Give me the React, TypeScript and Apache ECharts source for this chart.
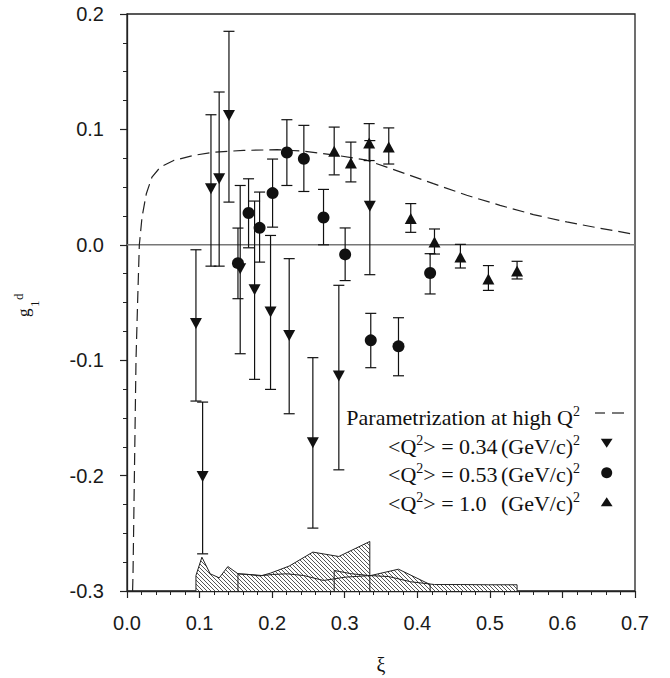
import React, { useEffect, useRef } from "react";
import * as echarts from "echarts";

// ---- axis ranges ----
const X_MIN = 0;
const X_MAX = 0.7;
const X_STEP = 0.1;
const Y_MIN = -0.3;
const Y_MAX = 0.2;
const Y_STEP = 0.1;

// ---- <Q^2> = 0.34 (GeV/c)^2 : down triangles ----
const xi34 = [0.095, 0.1042, 0.1157, 0.127, 0.1405, 0.156, 0.1758, 0.1978, 0.2235, 0.2561, 0.2919, 0.3346];
const g34 = [-0.0683, -0.2007, 0.0486, 0.0572, 0.112, -0.0208, -0.0389, -0.0583, -0.0785, -0.1715, -0.1137, 0.0334];
const hi34 = [-0.0043, -0.1363, 0.1127, 0.1324, 0.185, 0.0514, 0.0379, 0.0081, -0.012, -0.0978, -0.0351, 0.0903];
const lo34 = [-0.1354, -0.2678, -0.0185, -0.0185, 0.037, -0.0944, -0.1166, -0.1253, -0.1464, -0.2455, -0.195, -0.0259];

// ---- <Q^2> = 0.53 (GeV/c)^2 : circles ----
const xi53 = [0.1529, 0.1675, 0.1827, 0.2006, 0.2203, 0.2437, 0.2708, 0.3006, 0.3359, 0.3741, 0.4177];
const g53 = [-0.0159, 0.0275, 0.0147, 0.0448, 0.08, 0.0746, 0.0237, -0.0083, -0.0828, -0.088, -0.0244];
const hi53 = [0.0145, 0.0572, 0.0457, 0.0743, 0.1084, 0.1035, 0.048, 0.0146, -0.0594, -0.0632, -0.0077];
const lo53 = [-0.0467, -0.0026, -0.015, 0.0153, 0.0514, 0.0462, 0.0, -0.031, -0.1065, -0.1135, -0.0426];

// ---- <Q^2> = 1.0 (GeV/c)^2 : up triangles ----
const xi10 = [0.2855, 0.3085, 0.3337, 0.3607, 0.391, 0.4237, 0.4594, 0.498, 0.5375];
const g10 = [0.081, 0.0708, 0.0883, 0.0848, 0.0227, 0.0025, -0.0106, -0.0296, -0.0227];
const hi10 = [0.102, 0.089, 0.105, 0.1013, 0.0357, 0.0137, 0.0004, -0.018, -0.0143];
const lo10 = [0.0606, 0.0545, 0.073, 0.07, 0.0108, -0.008, -0.0201, -0.0395, -0.0296];

// ---- parametrization at high Q^2 (dashed curve) ----
const curveXi = [0.0077, 0.0083, 0.0124, 0.0147, 0.017, 0.0207, 0.0266, 0.0344, 0.0459, 0.0643, 0.0918, 0.1193, 0.1607, 0.2066, 0.2433, 0.2892, 0.3304, 0.3764, 0.4223, 0.4682, 0.5141, 0.56, 0.6059, 0.6472, 0.7];
const curveG = [-0.3, -0.285, -0.1, -0.048, 0, 0.024, 0.0442, 0.0587, 0.0673, 0.0731, 0.0775, 0.0803, 0.0818, 0.0824, 0.0812, 0.0775, 0.0733, 0.0632, 0.053, 0.0429, 0.0342, 0.0262, 0.0198, 0.0149, 0.009];

// ---- systematic error bands (top edges) ----
const bandXiA = [0.095, 0.1032, 0.1147, 0.1271, 0.139, 0.1529, 0.1758, 0.1858, 0.1978, 0.2235, 0.2561, 0.2919, 0.3346];
const bandTopA = [-0.2866, -0.2707, -0.2851, -0.2886, -0.2788, -0.2851, -0.286, -0.2866, -0.2845, -0.2784, -0.2663, -0.2701, -0.2571];
const bandXiB = [0.1529, 0.1675, 0.1827, 0.2006, 0.2203, 0.2437, 0.2708, 0.3006, 0.3359, 0.3741, 0.4177];
const bandTopB = [-0.2851, -0.2857, -0.2869, -0.2857, -0.2851, -0.2866, -0.2909, -0.288, -0.2866, -0.2811, -0.2944];
const bandXiC = [0.2855, 0.3085, 0.3337, 0.3607, 0.391, 0.4237, 0.4594, 0.498, 0.5375];
const bandTopC = [-0.2822, -0.285, -0.2866, -0.2875, -0.292, -0.2944, -0.2944, -0.2946, -0.2946];

const SANS = '"Liberation Sans", Arial, Helvetica, sans-serif';
const SERIF = '"Liberation Serif", "Times New Roman", Times, serif';
const INK = "#1a1a1a";

const fmt = (v: number) => (Math.abs(v) < 1e-9 ? 0 : v).toFixed(1);

function makeHatch() {
  const s = 4;
  const c = document.createElement("canvas");
  c.width = s;
  c.height = s;
  const ctx = c.getContext("2d")!;
  ctx.fillStyle = "#ffffff";
  ctx.fillRect(0, 0, s, s);
  ctx.strokeStyle = "#555555";
  ctx.lineWidth = 1;
  ctx.beginPath();
  ctx.moveTo(0, 0);
  ctx.lineTo(s, s);
  ctx.moveTo(-1, s - 1);
  ctx.lineTo(1, s + 1);
  ctx.moveTo(s - 1, -1);
  ctx.lineTo(s + 1, 1);
  ctx.stroke();
  return c;
}

function bandSeries(xs: number[], tops: number[], hatch: any) {
  const data: number[][] = [[xs[0], Y_MIN]];
  xs.forEach((x, i) => data.push([x, tops[i]]));
  data.push([xs[xs.length - 1], Y_MIN]);
  return {
    type: "line",
    data,
    showSymbol: false,
    symbol: "none",
    z: 1,
    lineStyle: { color: "#222", width: 1 },
    areaStyle: {
      origin: "start",
      opacity: 1,
      color: { image: hatch, repeat: "repeat", imageWidth: 4, imageHeight: 4 },
    },
    silent: true,
  };
}

function errorSeries(xs: number[], lo: number[], hi: number[]) {
  return {
    type: "custom",
    z: 4,
    silent: true,
    encode: { x: 0, y: [1, 2] },
    data: xs.map((x, i) => [x, lo[i], hi[i]]),
    renderItem: (params: any, api: any) => {
      const x = api.value(0);
      const pLo = api.coord([x, api.value(1)]);
      const pHi = api.coord([x, api.value(2)]);
      const hw = 5.5;
      const st = { stroke: "#111", lineWidth: 1.2 };
      return {
        type: "group",
        children: [
          { type: "line", shape: { x1: pLo[0], y1: pLo[1], x2: pHi[0], y2: pHi[1] }, style: st },
          { type: "line", shape: { x1: pLo[0] - hw, y1: pLo[1], x2: pLo[0] + hw, y2: pLo[1] }, style: st },
          { type: "line", shape: { x1: pHi[0] - hw, y1: pHi[1], x2: pHi[0] + hw, y2: pHi[1] }, style: st },
        ],
      };
    },
  };
}

function markerSeries(xs: number[], ys: number[], symbol: string, size: any, rotate: number) {
  return {
    type: "scatter",
    z: 5,
    silent: true,
    symbol,
    symbolSize: size,
    symbolRotate: rotate,
    itemStyle: { color: "#111", opacity: 1 },
    data: xs.map((x, i) => [x, ys[i]]),
  };
}

const richMain = { fontSize: 22, lineHeight: 24, fontFamily: SERIF, fill: "#111", color: "#111", verticalAlign: "bottom" };
const richSup = { fontSize: 14, lineHeight: 14, fontFamily: SERIF, fill: "#111", color: "#111", verticalAlign: "top" };

export default function App() {
  const ref = useRef<HTMLDivElement>(null);

  useEffect(() => {
    if (!ref.current) return;
    const chart = echarts.init(ref.current, undefined, { renderer: "svg" });
    const hatch = makeHatch();

    const axisCommon = {
      type: "value",
      splitLine: { show: false },
      minorSplitLine: { show: false },
      axisLine: { show: true, onZero: false, lineStyle: { color: "#222", width: 1.3 } },
      axisTick: { show: true, inside: false, length: 7, lineStyle: { color: "#222", width: 1.2 } },
    };

    const legendRow = (y: number, left: string) => [
      {
        type: "text",
        x: 388,
        y,
        style: { text: `{m|<Q}{s|2}{m|${left}}`, align: "left", verticalAlign: "middle", rich: { m: richMain, s: richSup } },
      },
      {
        type: "text",
        x: 580,
        y,
        style: { text: "{m|(GeV/c)}{s|2}", align: "right", verticalAlign: "middle", rich: { m: richMain, s: richSup } },
      },
    ];

    const option: any = {
      animation: false,
      backgroundColor: "#ffffff",
      grid: {
        left: 127,
        right: 35,
        top: 14,
        bottom: 87,
        show: true,
        borderColor: "#222",
        borderWidth: 1.3,
        backgroundColor: "transparent",
      },
      xAxis: {
        ...axisCommon,
        min: X_MIN,
        max: X_MAX,
        interval: X_STEP,
        minorTick: { show: true, splitNumber: 5, length: 4, lineStyle: { color: "#222", width: 1 } },
        axisLabel: { margin: 22, color: INK, fontSize: 20, fontFamily: SANS, formatter: fmt },
      },
      yAxis: {
        ...axisCommon,
        min: Y_MIN,
        max: Y_MAX,
        interval: Y_STEP,
        minorTick: { show: true, splitNumber: 4, length: 4, lineStyle: { color: "#222", width: 1 } },
        axisLabel: { margin: 23, color: INK, fontSize: 20, fontFamily: SANS, formatter: fmt },
      },
      series: [
        bandSeries(bandXiA, bandTopA, hatch),
        bandSeries(bandXiB, bandTopB, hatch),
        bandSeries(bandXiC, bandTopC, hatch),
        {
          type: "line",
          z: 2,
          silent: true,
          showSymbol: false,
          symbol: "none",
          data: [[X_MIN, 0], [X_MAX, 0]],
          lineStyle: { color: "#777", width: 1.5 },
        },
        {
          type: "line",
          z: 3,
          silent: true,
          showSymbol: false,
          symbol: "none",
          data: curveXi.map((x, i) => [x, curveG[i]]),
          lineStyle: { color: "#222", width: 1.2, type: [12, 6] },
        },
        errorSeries(xi34, lo34, hi34),
        errorSeries(xi53, lo53, hi53),
        errorSeries(xi10, lo10, hi10),
        markerSeries(xi34, g34, "triangle", [12, 11], 180),
        markerSeries(xi53, g53, "circle", 12, 0),
        markerSeries(xi10, g10, "triangle", [12, 11], 0),
      ],
      graphic: [
        // y-axis title g_1^d (rotated)
        {
          type: "group",
          x: 29,
          y: 317,
          rotation: Math.PI / 2,
          children: [
            { type: "text", x: 0, y: -5.8, style: { text: "g", fontSize: 17, fontFamily: SERIF, fill: "#111", align: "left", verticalAlign: "middle" } },
            { type: "text", x: 10, y: 5.2, style: { text: "1", fontSize: 13, fontFamily: SERIF, fill: "#111", align: "left", verticalAlign: "middle" } },
            { type: "text", x: 17, y: -10.4, style: { text: "d", fontSize: 13, fontFamily: SERIF, fill: "#111", align: "left", verticalAlign: "middle" } },
          ],
        },
        // x-axis title
        {
          type: "text",
          x: 381,
          y: 665,
          style: { text: "ξ", fontSize: 20, fontFamily: SERIF, fill: "#111", align: "center", verticalAlign: "middle" },
        },
        // legend
        {
          type: "text",
          x: 580,
          y: 416,
          style: {
            text: "{m|Parametrization at high Q}{s|2}",
            align: "right",
            verticalAlign: "middle",
            rich: { m: richMain, s: richSup },
          },
        },
        { type: "line", shape: { x1: 595, y1: 413, x2: 605, y2: 413 }, style: { stroke: "#222", lineWidth: 1.2 } },
        { type: "line", shape: { x1: 612, y1: 413, x2: 624, y2: 413 }, style: { stroke: "#222", lineWidth: 1.2 } },
        ...legendRow(445.2, "> = 0.34"),
        { type: "polygon", shape: { points: [[600.8, 438.8], [612.6, 438.8], [606.7, 447.8]] }, style: { fill: "#111" } },
        ...legendRow(473.5, "> = 0.53"),
        { type: "circle", shape: { cx: 606.7, cy: 472.7, r: 5.5 }, style: { fill: "#111" } },
        ...legendRow(502.5, "> = 1.0"),
        { type: "polygon", shape: { points: [[606.7, 497.2], [600.8, 506.2], [612.6, 506.2]] }, style: { fill: "#111" } },
      ],
    };

    chart.setOption(option);
    return () => chart.dispose();
  }, []);

  return (
    <div
      ref={ref}
      style={{ position: "absolute", left: 0, top: 0, width: 670, height: 678, background: "#fff" }}
    />
  );
}
